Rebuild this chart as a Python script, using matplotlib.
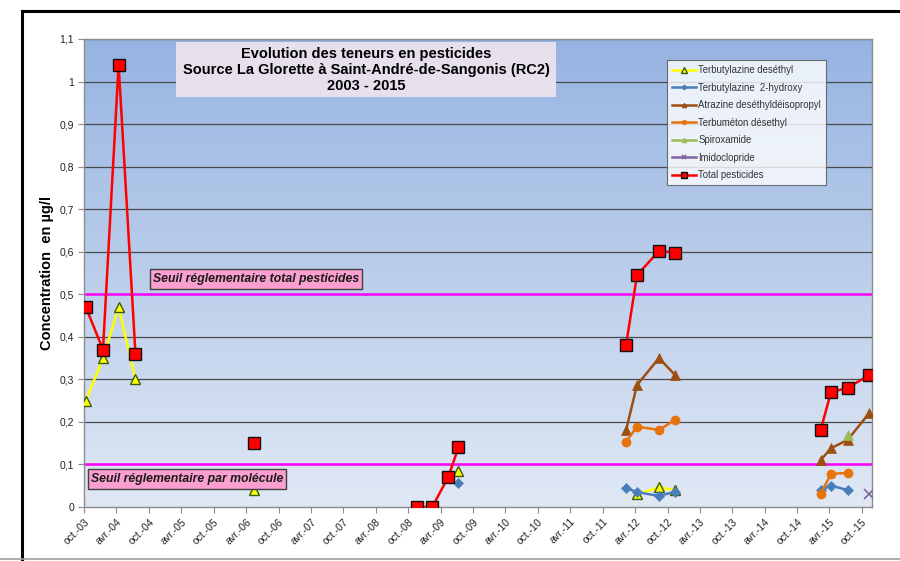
import numpy as np
import matplotlib
matplotlib.use("Agg")
import matplotlib.pyplot as plt
import matplotlib.dates as mdates
import matplotlib.patches as mpatches
from matplotlib.lines import Line2D
from matplotlib.ticker import FuncFormatter, MultipleLocator
import datetime as dt

plt.rcParams['font.family'] = ['Liberation Sans', 'DejaVu Sans']

# sampling dates and their group (lines are not joined across groups)
dates = ["2003-10-11", "2004-01-16", "2004-04-13", "2004-07-17",
         "2006-05-16",
         "2008-11-17", "2009-02-13", "2009-05-14", "2009-07-11",
         "2012-02-10", "2012-04-12", "2012-08-14", "2012-11-13",
         "2015-02-10", "2015-04-10", "2015-07-13", "2015-11-10"]
groups = [0, 0, 0, 0, 1, 2, 2, 2, 2, 3, 3, 3, 3, 4, 4, 4, 4]

nan = np.nan
terb_desethyl = [0.25, 0.35, 0.47, 0.30, 0.04, nan, nan, nan, 0.085,
                 nan, 0.03, 0.046, 0.04, nan, nan, nan, nan]
terb_hydroxy = [nan, nan, nan, nan, nan, nan, nan, nan, 0.057,
                0.045, 0.035, 0.026, 0.036, 0.04, 0.05, 0.04, nan]
atrazine = [nan, nan, nan, nan, nan, nan, nan, nan, nan,
            0.18, 0.287, 0.35, 0.31, 0.11, 0.138, 0.158, 0.22]
terbumeton = [nan, nan, nan, nan, nan, nan, nan, nan, nan,
              0.153, 0.189, 0.181, 0.205, 0.03, 0.078, 0.08, nan]
spiroxamide = [nan] * 15 + [0.17, nan]
imidoclopride = [nan] * 16 + [0.03]
total = [0.47, 0.37, 1.04, 0.36, 0.15, 0.0, 0.0, 0.07, 0.14,
         0.38, 0.545, 0.602, 0.598, 0.18, 0.27, 0.28, 0.31]

seuil_total = 0.5
seuil_molecule = 0.1

x = np.array([dt.datetime.strptime(d, "%Y-%m-%d") for d in dates])
groups = np.array(groups)

series = [
    ("Terbutylazine deséthyl", terb_desethyl,
     dict(color="#FFFF00", marker="^", ms=7.5, mfc="#FFFF00", mec="#3A5A10", mew=1.0)),
    ("Terbutylazine  2-hydroxy", terb_hydroxy,
     dict(color="#4A7EBB", marker="D", ms=5.5, mfc="#4A7EBB", mec="#4A7EBB", mew=0.5)),
    ("Atrazine deséthyldéisopropyl", atrazine,
     dict(color="#9C4F10", marker="^", ms=7, mfc="#9C4F10", mec="#9C4F10", mew=0.5)),
    ("Terbuméton désethyl", terbumeton,
     dict(color="#E8720C", marker="o", ms=6.5, mfc="#E8720C", mec="#E8720C", mew=0.5)),
    ("Spiroxamide", spiroxamide,
     dict(color="#9BBB59", marker="^", ms=7, mfc="#9BBB59", mec="#9BBB59", mew=0.5)),
    ("Imidoclopride", imidoclopride,
     dict(color="#8064A2", marker="x", ms=7, mfc="#8064A2", mec="#8064A2", mew=1.2)),
    ("Total pesticides", total,
     dict(color="#FF0000", marker="s", ms=8, mfc="#FF0000", mec="#111111", mew=1.0)),
]

fig = plt.figure(figsize=(9, 5.61), dpi=100)
ax = fig.add_axes([84 / 900, 1 - 507 / 561, 788 / 900, 468 / 561])

# outer frame
fig.add_artist(Line2D([22 / 900, 22 / 900], [1 - 11 / 561, 0], color="black", lw=2.2,
                      transform=fig.transFigure))
fig.add_artist(Line2D([22 / 900, 1], [1 - 11 / 561, 1 - 11 / 561], color="black", lw=2.2,
                      transform=fig.transFigure))
fig.add_artist(Line2D([0, 1], [2 / 561, 2 / 561], color="#A0A0A0", lw=1.2,
                      transform=fig.transFigure))

# gradient background
grad = np.linspace(0, 1, 256).reshape(-1, 1)
top = np.array([150, 180, 226]) / 255
bot = np.array([224, 232, 244]) / 255
img = top * (1 - grad[..., None]) + bot * grad[..., None]
ax.imshow(img, extent=[0, 1, 0, 1], transform=ax.transAxes, aspect="auto", zorder=0)

ax.set_xlim(dt.datetime(2003, 10, 1), dt.datetime(2015, 11, 27))
ax.set_ylim(0, 1.1)

for y in np.arange(0.1, 1.15, 0.1):
    ax.axhline(y, color="#4A4A4A", lw=0.9, zorder=1)
ax.axhline(seuil_total, color="#FF00FF", lw=1.8, zorder=2)
ax.axhline(seuil_molecule, color="#FF00FF", lw=1.8, zorder=2)

handles = []
for label, vals, st in series:
    vals = np.array(vals, dtype=float)
    for g in np.unique(groups):
        m = groups == g
        ax.plot(x[m], vals[m], lw=1.8, zorder=4, **st)
    handles.append(Line2D([], [], lw=1.8, label=label,
                          **{k: (v * 0.5 if k == "ms" else v) for k, v in st.items()}))

# axes styling
for s in ax.spines.values():
    s.set_color("#8C8C8C")
    s.set_linewidth(1.0)
ax.yaxis.set_major_locator(MultipleLocator(0.1))
ax.yaxis.set_major_formatter(FuncFormatter(lambda v, p: ("%g" % round(v, 1)).replace(".", ",")))
ax.tick_params(axis="y", length=4, color="#8C8C8C", labelsize=7.5, labelcolor="#222222", pad=3)

months = {1: "janv.", 2: "févr.", 3: "mars", 4: "avr.", 5: "mai", 6: "juin", 7: "juil.",
          8: "août", 9: "sept.", 10: "oct.", 11: "nov.", 12: "déc."}
ax.xaxis.set_major_locator(mdates.MonthLocator(bymonth=[4, 10], bymonthday=1))
ax.xaxis.set_major_formatter(FuncFormatter(
    lambda v, p: "%s-%02d" % (months[mdates.num2date(v).month], mdates.num2date(v).year % 100)))
ax.tick_params(axis="x", length=4, color="#8C8C8C", labelsize=7.5, labelcolor="#222222", pad=3)
for lab in ax.get_xticklabels():
    lab.set_rotation(45)
    lab.set_ha("right")
    lab.set_rotation_mode("anchor")

ax.set_ylabel("Concentration  en µg/l", fontsize=10.5, fontweight="bold", labelpad=4)

# title box
fig.add_artist(mpatches.Rectangle((176 / 900, 1 - 97 / 561), 380 / 900, 55 / 561,
                                  transform=fig.transFigure, facecolor="#E6E0EC",
                                  edgecolor="none", zorder=5))
fig.text(366 / 900, 1 - 70 / 561,
         "Evolution des teneurs en pesticides\nSource La Glorette à Saint-André-de-Sangonis (RC2)\n2003 - 2015",
         ha="center", va="center", fontsize=10.5, fontweight="bold", linespacing=1.17, zorder=6)

# threshold labels
for (x0, y0, x1, y1, txt) in [(150, 269, 362, 289, "Seuil réglementaire total pesticides"),
                               (88, 469, 286, 489, "Seuil réglementaire par molécule")]:
    fig.add_artist(mpatches.Rectangle((x0 / 900, 1 - y1 / 561), (x1 - x0) / 900, (y1 - y0) / 561,
                                      transform=fig.transFigure, facecolor="#FA9FCF",
                                      edgecolor="#404040", lw=1.0, zorder=5))
    fig.text((x0 + x1) / 2 / 900, 1 - (y0 + y1) / 2 / 561, txt, ha="center", va="center",
             fontsize=8.8, fontweight="bold", style="italic", color="#1A1A1A", zorder=6)

leg = fig.legend(handles=handles, loc="upper left", bbox_to_anchor=(667 / 900, 1 - 60 / 561),
                 bbox_transform=fig.transFigure, fontsize=6.9, frameon=True, fancybox=False,
                 edgecolor="#505050", borderaxespad=0, handlelength=2.5, handletextpad=0.2,
                 labelspacing=0.78, borderpad=0.55, labelcolor="#333333")
leg.get_frame().set_linewidth(0.8)

fig.savefig("out.png", dpi=100)
